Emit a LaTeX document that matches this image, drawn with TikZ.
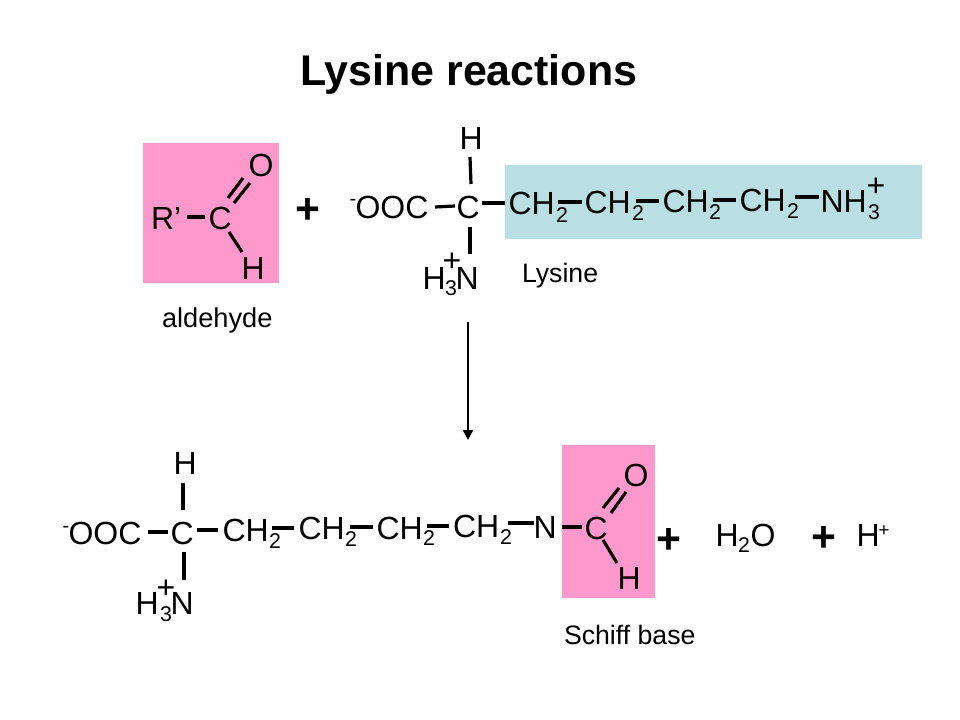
\documentclass[tikz,border=0pt]{standalone}
\usepackage{fontspec}
\setmainfont{Liberation Sans}
\usetikzlibrary{arrows.meta}
\definecolor{pinkbox}{HTML}{FF99CC}
\definecolor{bluebox}{HTML}{B9DFE3}
\tikzset{
  base/.style={inner sep=0pt,outer sep=0pt,anchor=base west},
  atom/.style={base,yshift=-0.9pt,font=\fontsize{24}{26}\selectfont},
  subs/.style={base,yshift=-0.9pt,font=\fontsize{16}{18}\selectfont},
  lab/.style={base,font=\fontsize{20}{24}\selectfont},
  bigplus/.style={base,font=\fontsize{32}{36}\bfseries\selectfont},
  smallplus/.style={base,font=\fontsize{14}{16}\selectfont},
  minus/.style={base,font=\fontsize{15}{17}\selectfont},
  title/.style={base,font=\fontsize{32.2}{36}\bfseries\selectfont},
  bond/.style={draw=black,line width=2.4pt},
  arrowline/.style={draw=black,line width=1.7pt,-{Triangle[length=7.5pt,width=7.5pt]}}
}
\newcommand{\bondline}[4]{\draw[bond] ([shift={(#2)},yshift=0.9pt]#1.base west) -- ([shift={(#4)},yshift=0.9pt]#3.base west);}
\begin{document}
\begin{tikzpicture}[x=0.75pt,y=-0.75pt]
\useasboundingbox (0,0) rectangle (960,720);
\fill[pinkbox] (143,143) rectangle (279,283);
\fill[bluebox] (505,165) rectangle (922,239);
\fill[pinkbox] (562,445) rectangle (655,598);

\node[title] (ttl) at (300,86) {Lysine reactions};

% aldehyde
\node[atom] (aR) at (151,228) {R’};
\node[atom] (aC) at (208.5,228) {C};
\node[atom] (aO) at (248.5,175) {O};
\node[atom] (aH) at (241.5,278) {H};
\node[lab,font=\fontsize{20.4}{24}\selectfont] (ald) at (162,327.5) {aldehyde};
\bondline{aR}{36,-11}{aC}{-3.5,-11}
\bondline{aC}{19.5,-30}{aO}{-5.5,3}
\bondline{aC}{25.5,-25}{aO}{1.5,8}
\bondline{aC}{20.5,4}{aH}{0.5,-26}
\node[bigplus] (p1) at (295.5,224) {+};

% lysine
\node[minus] (lm) at (349.5,205.6) {-};
\node[atom] (lOOC) at (355.5,217) {OOC};
\node[atom] (lC) at (456.5,217) {C};
\node[atom] (lH) at (459.5,148) {H};
\node[atom] (lHN) at (422.5,288) {H};
\node[subs] (l3) at (445,294) {3};
\node[atom] (lNN) at (455.5,288) {N};
\node[atom] (lp) at (442.7,270.4) {+};
\node[atom] (ch1) at (508.5,213) {CH};
\node[subs] (s1) at (556,221) {2};
\node[atom] (ch2) at (584.5,212) {CH};
\node[subs] (s2) at (632,219) {2};
\node[atom] (ch3) at (662.5,211) {CH};
\node[subs] (s3) at (709,218) {2};
\node[atom] (ch4) at (739.5,210) {CH};
\node[subs] (s4) at (787,217) {2};
\node[atom] (nh) at (820.5,211) {NH};
\node[subs] (n3) at (868,218) {3};
\node[atom] (np) at (866.7,195.4) {+};
\node[lab] (lys) at (522,282) {Lysine};
\bondline{lOOC}{79.5,-10}{lC}{-1.5,-11}
\bondline{lC}{25.5,-14}{ch1}{-3.5,-10}
\bondline{lH}{10.5,9}{lC}{14.5,-33}
\bondline{lC}{13.5,10}{lNN}{14.5,-34}
\bondline{ch1}{49.5,-11}{ch2}{-2.5,-10}
\bondline{ch2}{51.5,-11}{ch3}{-3.5,-10}
\bondline{ch3}{50.5,-11}{ch4}{-3.5,-10}
\bondline{ch4}{55.5,-13}{nh}{-1.5,-14}

% product
\node[minus] (bm) at (62.5,532.6) {-};
\node[atom] (bOOC) at (68.5,543) {OOC};
\node[atom] (bC) at (170.5,543) {C};
\node[atom] (bH) at (173.5,473) {H};
\node[atom] (bHN) at (135.5,613) {H};
\node[subs] (b3) at (160,620) {3};
\node[atom] (bNN) at (170.5,613) {N};
\node[atom] (bp) at (156.7,597.4) {+};
\node[atom] (bch1) at (222.5,540) {CH};
\node[subs] (bs1) at (269,547) {2};
\node[atom] (bch2) at (298.5,538) {CH};
\node[subs] (bs2) at (345,545) {2};
\node[atom] (bch3) at (376.5,538) {CH};
\node[subs] (bs3) at (423,544) {2};
\node[atom] (bch4) at (453,536.5) {CH};
\node[subs] (bs4) at (500,543) {2};
\node[atom] (bN) at (533.5,537) {N};
\node[atom] (pC) at (584.5,538) {C};
\node[atom] (pO) at (623.5,485) {O};
\node[atom] (pH) at (617.5,588) {H};
\node[lab] (sb) at (564,644) {Schiff base};
\bondline{bOOC}{79.5,-11}{bC}{-2.5,-11}
\bondline{bC}{26.5,-13}{bch1}{-4.5,-10}
\bondline{bH}{9.5,10}{bC}{12.5,-33}
\bondline{bC}{13.5,9}{bNN}{13.5,-33}
\bondline{bch1}{49.5,-12}{bch2}{-4.5,-10}
\bondline{bch2}{51.5,-11}{bch3}{-3.5,-11}
\bondline{bch3}{50.5,-12}{bch4}{-4,-10.5}
\bondline{bch4}{55,-13.5}{bN}{0.5,-14}
\bondline{bN}{28.5,-10}{pC}{-2.5,-11}
\bondline{pC}{18.5,-30}{pO}{-4.5,3}
\bondline{pC}{26.5,-25}{pO}{2.5,7}
\bondline{pC}{18.5,2}{pH}{-0.5,-25}

\node[bigplus] (p2) at (656.5,553) {+};
\node[atom] (wH) at (715.5,545) {H};
\node[subs] (w2) at (738,551) {2};
\node[atom] (wO) at (750.5,545) {O};
\node[bigplus] (p3) at (811.5,551) {+};
\node[atom] (hH) at (856.5,545) {H};
\node[smallplus] (hp) at (878.5,536.7) {+};

\draw[arrowline] ([shift={(12.5,34)},yshift=0.9pt]lNN.base west) -- ([shift={(15,-96.5)},yshift=0.9pt]bch4.base west);
\end{tikzpicture}
\end{document}
